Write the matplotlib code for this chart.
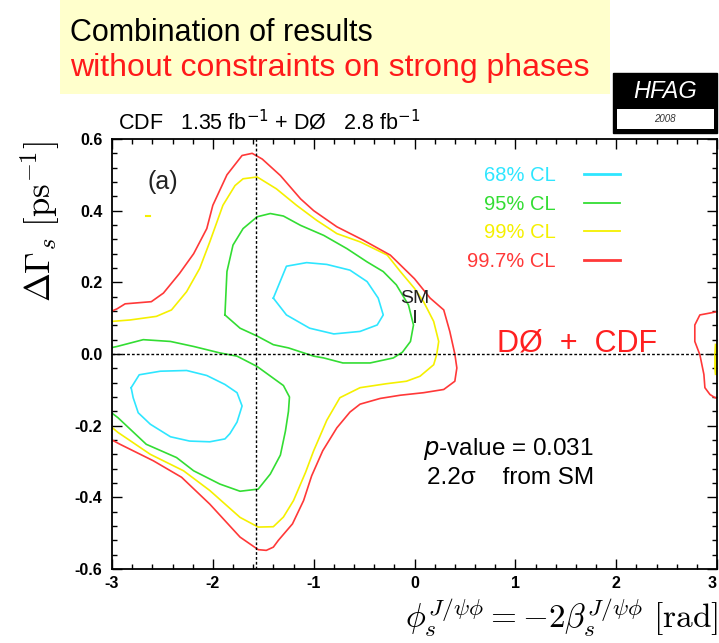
import matplotlib
matplotlib.use("Agg")
import matplotlib.pyplot as plt
import matplotlib.patches as mpatches
from matplotlib.lines import Line2D
from matplotlib.ticker import MultipleLocator, AutoMinorLocator, FormatStrFormatter
import numpy as np

plt.rcParams["font.family"] = ["Liberation Sans", "DejaVu Sans"]

# contour traces: (phi_s, delta Gamma_s)
red_x = [-3.0, -2.95, -2.87, -2.61, -2.49, -2.33, -2.19, -2.06, -2.0, -1.86, -1.71, -1.61,
         -1.51, -1.33, -1.13, -1.0, -0.77, -0.51, -0.24, 0.0, 0.155, 0.29, 0.35, 0.40,
         0.42, 0.40, 0.29, 0.09, -0.14, -0.34, -0.54, -0.64, -0.77, -0.91, -1.02, -1.10,
         -1.21, -1.35, -1.40, -1.47, -1.55, -1.73, -2.03, -2.31, -2.59, -2.92, -3.0]
red_y = [0.12, 0.126, 0.14, 0.146, 0.17, 0.225, 0.28, 0.35, 0.415, 0.50, 0.554, 0.56,
         0.544, 0.498, 0.433, 0.40, 0.355, 0.318, 0.276, 0.21, 0.156, 0.123, 0.063, 0.0,
         -0.039, -0.076, -0.099, -0.108, -0.115, -0.124, -0.14, -0.162, -0.206, -0.27,
         -0.34, -0.409, -0.474, -0.52, -0.539, -0.548, -0.546, -0.511, -0.419, -0.344,
         -0.298, -0.252, -0.24]

yellow_x = [-3.0, -2.82, -2.56, -2.41, -2.26, -2.13, -2.03, -1.90, -1.78, -1.70, -1.56,
            -1.37, -1.17, -0.97, -0.77, -0.54, -0.27, -0.14, 0.0, 0.09, 0.19, 0.24, 0.22,
            0.19, 0.055, -0.08, -0.28, -0.54, -0.74, -0.87, -1.0, -1.08, -1.20, -1.30,
            -1.40, -1.55, -1.73, -2.03, -2.29, -2.62, -2.94, -3.0]
yellow_y = [0.091, 0.095, 0.105, 0.123, 0.174, 0.239, 0.313, 0.415, 0.47, 0.489, 0.494,
            0.461, 0.415, 0.373, 0.336, 0.313, 0.276, 0.23, 0.183, 0.146, 0.091, 0.035,
            -0.002, -0.03, -0.062, -0.076, -0.083, -0.094, -0.122, -0.185, -0.27, -0.33,
            -0.409, -0.455, -0.482, -0.483, -0.456, -0.381, -0.326, -0.28, -0.219, -0.205]

green_lo_x = [-3.0, -2.95, -2.69, -2.42, -2.19, -1.93, -1.76, -1.56, -1.30, -1.24, -1.25,
              -1.28, -1.33, -1.43, -1.55, -1.73, -1.93, -2.19, -2.36, -2.66, -2.94, -3.0]
green_lo_y = [0.018, 0.021, 0.04, 0.035, 0.021, 0.003, -0.006, -0.035, -0.088, -0.12,
              -0.16, -0.215, -0.282, -0.335, -0.377, -0.383, -0.363, -0.326, -0.289,
              -0.252, -0.178, -0.165]

green_up_x = [-1.88, -1.86, -1.80, -1.70, -1.56, -1.43, -1.30, -1.13, -0.90, -0.67, -0.47,
              -0.31, -0.18, -0.06, -0.01, -0.04, -0.12, -0.21, -0.44, -0.71, -0.90, -1.0,
              -1.25, -1.40, -1.56, -1.73, -1.88]
green_up_y = [0.109, 0.23, 0.304, 0.35, 0.383, 0.392, 0.385, 0.359, 0.331, 0.294, 0.257,
              0.23, 0.193, 0.137, 0.081, 0.035, 0.005, -0.011, -0.025, -0.025, -0.011,
              -0.006, 0.017, 0.026, 0.05, 0.072, 0.109]

cyan_up_x = [-1.40, -1.27, -1.07, -0.87, -0.64, -0.47, -0.36, -0.31, -0.37, -0.54, -0.80,
             -1.04, -1.27, -1.40]
cyan_up_y = [0.156, 0.245, 0.255, 0.25, 0.234, 0.202, 0.156, 0.109, 0.081, 0.063, 0.056,
             0.072, 0.109, 0.156]

cyan_lo_x = [-2.81, -2.73, -2.52, -2.26, -2.06, -1.88, -1.76, -1.71, -1.76, -1.83, -1.88,
             -2.03, -2.23, -2.42, -2.62, -2.74, -2.79, -2.81]
cyan_lo_y = [-0.094, -0.058, -0.048, -0.046, -0.06, -0.085, -0.108, -0.145, -0.19,
             -0.222, -0.237, -0.245, -0.243, -0.231, -0.196, -0.164, -0.122, -0.094]

red_edge_x = [3.0, 2.83, 2.78, 2.78, 2.83, 2.87, 2.88, 2.93, 2.98, 3.0]
red_edge_y = [0.118, 0.109, 0.081, 0.035, -0.002, -0.057, -0.094, -0.113, -0.122, -0.123]
yellow_edge_x = [2.99, 2.985, 2.985, 2.99]
yellow_edge_y = [0.025, 0.0, -0.04, -0.055]
yellow_spot_x = [-2.66, -2.62]
yellow_spot_y = [0.385, 0.385]

sm_phi = [0.0]
sm_dgamma = [0.104]
sm_err = [0.018]

cl_labels = ["68% CL", "95% CL", "99% CL", "99.7% CL"]
cl_colors = ["#2EE6FF", "#33DD33", "#F5F000", "#FF3838"]

W, H = 719, 643
fig = plt.figure(figsize=(W / 100, H / 100), dpi=100)
ax = fig.add_axes([112 / W, 1 - 569 / H, 605 / W, 430 / H])

lw = 1.2
ax.plot(cyan_up_x, cyan_up_y, color=cl_colors[0], lw=lw)
ax.plot(cyan_lo_x, cyan_lo_y, color=cl_colors[0], lw=lw)
ax.plot(green_up_x, green_up_y, color=cl_colors[1], lw=lw)
ax.plot(green_lo_x, green_lo_y, color=cl_colors[1], lw=lw)
ax.plot(yellow_x, yellow_y, color=cl_colors[2], lw=lw)
ax.plot(yellow_edge_x, yellow_edge_y, color=cl_colors[2], lw=2)
ax.plot(yellow_spot_x, yellow_spot_y, color=cl_colors[2], lw=1.5)
ax.plot(red_x, red_y, color=cl_colors[3], lw=lw)
ax.plot(red_edge_x, red_edge_y, color=cl_colors[3], lw=lw)

ax.axhline(0, color="black", lw=1.0, ls=(0, (2, 1.5)))
ax.axvline(-np.pi / 2, color="black", lw=1.0, ls=(0, (2, 1.5)))

ax.errorbar(sm_phi, sm_dgamma, yerr=sm_err, fmt="none", ecolor="black", elinewidth=1.2,
            capsize=0)
ax.text(0.0, 0.155, "SM", fontsize=14, ha="center", va="center", color="#222222")

ax.set_xlim(-3, 3)
ax.set_ylim(-0.6, 0.6)
ax.xaxis.set_major_locator(MultipleLocator(1))
ax.yaxis.set_major_locator(MultipleLocator(0.2))
ax.xaxis.set_minor_locator(AutoMinorLocator(5))
ax.yaxis.set_minor_locator(AutoMinorLocator(5))
ax.xaxis.set_major_formatter(FormatStrFormatter("%d"))
ax.yaxis.set_major_formatter(FormatStrFormatter("%.1f"))
ax.tick_params(which="both", direction="in", top=True, right=True, width=1.0)
ax.tick_params(which="major", length=7)
ax.tick_params(which="minor", length=3.5)
ax.tick_params(axis="y", pad=7)
ax.tick_params(axis="x", pad=5)
fig.canvas.draw()
xlabels = ax.get_xticklabels()
for lab in xlabels + ax.get_yticklabels():
    lab.set_fontweight("bold")
    lab.set_fontsize(11.5)
for lab in xlabels:
    if lab.get_text() == "3":
        lab.set_horizontalalignment("right")
for sp in ax.spines.values():
    sp.set_linewidth(1.3)

ax.text(-2.5, 0.48, "(a)", fontsize=18, ha="center", va="center", color="#222222")
ax.text(0.82, 0.008, "DØ  +  CDF", fontsize=22, color="#FF2020", ha="left", va="baseline")
ax.text(0.085, -0.265, r"$\it{p}$-value = 0.031", fontsize=17.5, ha="left", va="center")
ax.text(0.12, -0.345, "2.2σ    from SM", fontsize=17.5, ha="left", va="center")

handles = [Line2D([], [], color=c, lw=2 if i in (0, 3) else 1.3) for i, c in enumerate(cl_colors)]
ax.legend(handles, cl_labels, loc="upper left", bbox_to_anchor=(467 / W, 1 - 166 / H),
          bbox_transform=fig.transFigure, frameon=False, markerfirst=False,
          labelcolor=cl_colors, fontsize=14.5, handlelength=1.8, handletextpad=1.4,
          labelspacing=0.48, borderpad=0, borderaxespad=0)

# axis titles
fig.text(40 / W, 1 - 222 / H, r"$\Delta\Gamma_s\ [\mathrm{ps}^{-1}]$", rotation=90,
         ha="center", va="center", fontsize=25, math_fontfamily="cm")
fig.text(718 / W, 1 - 617 / H, r"$\phi_s^{J/\psi\phi} = -2\beta_s^{J/\psi\phi}\ [\mathrm{rad}]$",
         ha="right", va="center", fontsize=24, math_fontfamily="cm")

# header
fig.patches.append(mpatches.Rectangle((60 / W, 1 - 94 / H), 550 / W, 94 / H,
                                      transform=fig.transFigure, facecolor="#FFFFCC",
                                      edgecolor="none", zorder=0))
fig.text(70 / W, 1 - 33 / H, "Combination of results", fontsize=22, ha="left", va="center")
fig.text(70 / W, 1 - 68 / H, "without constraints on strong phases", fontsize=23,
         color="#FF1A1A", ha="left", va="center")
fig.text(118 / W, 1 - 122 / H, r"CDF   1.35 fb$^{-1}$ + DØ   2.8 fb$^{-1}$", fontsize=15.5,
         ha="left", va="center")

fig.patches.append(mpatches.Rectangle((613 / W, 1 - 133 / H), 104 / W, 60 / H,
                                      transform=fig.transFigure, facecolor="black",
                                      edgecolor="black", zorder=0))
fig.patches.append(mpatches.Rectangle((617 / W, 1 - 129 / H), 97 / W, 20 / H,
                                      transform=fig.transFigure, facecolor="white",
                                      edgecolor="none", zorder=1))
fig.text(665 / W, 1 - 92 / H, "HFAG", fontsize=17, style="italic", color="white",
         ha="center", va="center")
fig.text(665 / W, 1 - 119 / H, "2008", fontsize=7, style="italic", color="#333333",
         ha="center", va="center")

fig.savefig("out.png", dpi=100)
